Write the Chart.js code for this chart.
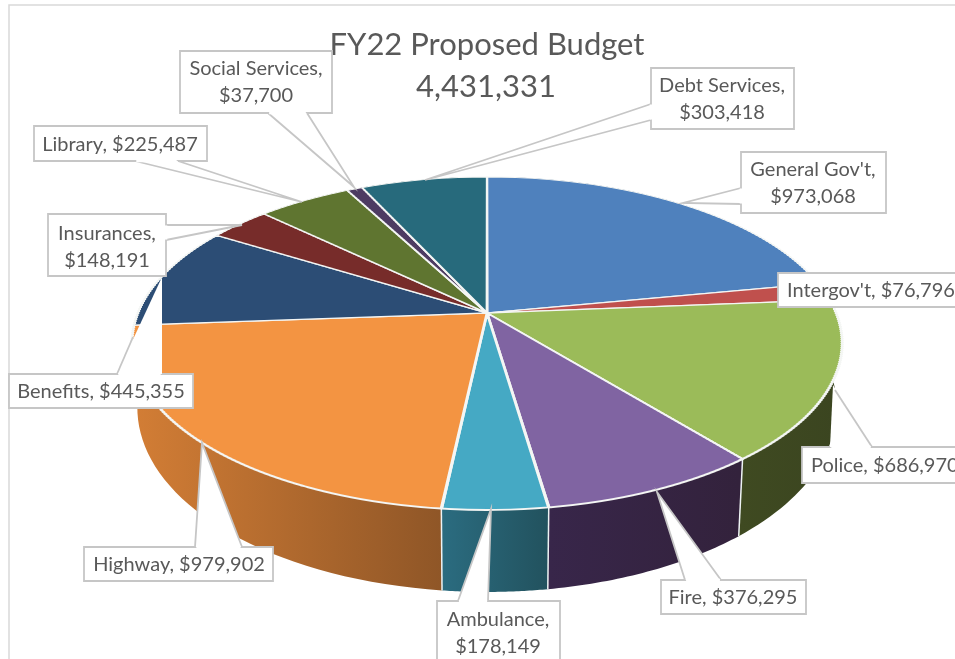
<!DOCTYPE html>
<html>
<head>
<meta charset="utf-8">
<title>FY22 Proposed Budget</title>
<script src="https://cdn.jsdelivr.net/npm/chart.js@4/dist/chart.umd.min.js"></script>
<style>
	html, body { margin: 0; padding: 0; background: #fff; overflow: hidden; }
	canvas { display: block; }
</style>
</head>
<body>
<canvas id="pie" width="955" height="659"></canvas>
<script>
// --- Datos ---------------------------------------------------------------------
const titleText = 'FY22 Proposed Budget';
const totalText = '4,431,331';
const categories = ["General Gov't", "Intergov't", 'Police', 'Fire', 'Ambulance', 'Highway', 'Benefits', 'Insurances', 'Library', 'Social Services', 'Debt Services'];
const values = [973068, 76796, 686970, 376295, 178149, 979902, 445355, 148191, 225487, 37700, 303418];
const topColors = ['#4f81bd', '#c0504d', '#9bbb59', '#8064a2', '#45a9c4', '#f39442', '#2c4d75', '#772c2a', '#5f7530', '#4d3b62', '#276a7c'];
const wallLight = ['#2f4d72', '#752f2d', '#3f4a21', '#38264a', '#2b6c80', '#d27d35', '#1f3a5c', '#4f1d1c', '#3d4c1f', '#32263f', '#1a4651'];
const wallDark = ['#2f4d72', '#752f2d', '#3b4520', '#33223c', '#22525e', '#8f5627', '#1f3a5c', '#4f1d1c', '#3d4c1f', '#32263f', '#1a4651'];

// --- Geometria del pastel 3D (proyeccion en perspectiva) ------------------------
const view = { cx: 487, cy: 313, a: 349, b: 160.9, k: 0.183, wallBase: 60, wallFront: 22, wallShrink: 0.985 };

function rimPoint(angle) {
	const u = Math.cos(angle), v = Math.sin(angle);
	const w = 1 / (1 - view.k * v);
	const x = view.cx + view.a * u * w, y = view.cy + view.b * v * w;
	return { x, y, bx: view.cx + (x - view.cx) * view.wallShrink, by: y + view.wallBase + view.wallFront * v, v };
}

// Paredes laterales: se construyen con los angulos de cada arco de Chart.js
function drawWalls(ctx, arcs) {
	const order = arcs.map((el, i) => ({ el, i })).sort((p, q) => Math.sin((p.el.startAngle + p.el.endAngle) / 2) - Math.sin((q.el.startAngle + q.el.endAngle) / 2));
	order.forEach(({ el, i }) => {
		const pts = [];
		for (let s = 0; s <= 40; s++) pts.push(rimPoint(el.startAngle + (el.endAngle - el.startAngle) * s / 40));
		const xs = pts.map(p => p.bx);
		const grad = ctx.createLinearGradient(Math.min(...xs), 0, Math.max(...xs), 0);
		grad.addColorStop(0, wallLight[i]);
		grad.addColorStop(1, wallDark[i]);
		ctx.beginPath();
		pts.forEach((p, n) => n ? ctx.lineTo(p.x, p.y) : ctx.moveTo(p.x, p.y));
		pts.slice().reverse().forEach(p => ctx.lineTo(p.bx, p.by));
		ctx.closePath();
		ctx.fillStyle = grad;
		ctx.fill();
	});
	// separadores blancos entre paredes
	ctx.strokeStyle = '#eef3f4';
	ctx.lineWidth = 1.5;
	arcs.forEach(el => {
		const p = rimPoint(el.startAngle);
		if (p.v < 0.1) return;
		ctx.beginPath();
		ctx.moveTo(p.x, p.y);
		ctx.lineTo(p.bx, p.by);
		ctx.stroke();
	});
}

// Cara superior: el canvas solo admite transformadas afines, asi que se dibuja por franjas
function drawTopFace(ctx, arcs) {
	const R = arcs[0].outerRadius, ox = arcs[0].x, oy = arcs[0].y;
	const step = 2;
	for (let y = 172; y < 516; y += step) {
		const d = y + step / 2 - view.cy;
		const v = d / (view.b + view.k * d);
		const w = 1 / (1 - view.k * v);
		ctx.save();
		ctx.beginPath();
		ctx.rect(0, y, 955, step);
		ctx.clip();
		ctx.translate(view.cx, y + step / 2);
		ctx.scale(view.a * w / R, view.b * w * w / R);
		ctx.translate(-ox, -(oy + R * v));
		arcs.forEach(el => el.draw(ctx));
		ctx.restore();
	}
}

const pie3d = {
	id: 'pie3d',
	beforeDatasetsDraw(chart) {
		const ctx = chart.ctx;
		const arcs = chart.getDatasetMeta(0).data;
		drawWalls(ctx, arcs);
		drawTopFace(ctx, arcs);
		return false;
	}
};

// --- Titulo, marco y etiquetas con cola --------------------------------------------
const labelFont = '20px Lato, "Noto Sans", sans-serif';
const labelColor = '#595959';
const boxLine = '#c6c6c6';

// idx = indice de categoria; box = [x, y, w, h]; tail = triangulo; textX/lineY = texto
const callouts = [
	{ idx: 0, box: [741, 152, 145, 61], tail: [[741, 188], [683, 203], [741, 204]], lines: 2, textX: 813, lineY: [170, 197] },
	{ idx: 1, box: [778, 273, 200, 34], tail: null, lines: 1, textX: 787, lineY: [291], left: true },
	{ idx: 2, box: [802, 447, 200, 36], tail: [[830, 447], [833, 385], [872, 447]], tailLine: [[872, 447], [835, 390]], lines: 1, textX: 811, lineY: [466], left: true },
	{ idx: 3, box: [661, 580, 145, 34], tail: [[685, 580], [657, 492], [721, 580]], lines: 1, textX: 733, lineY: [598] },
	{ idx: 4, box: [437, 601, 123, 70], tail: [[458, 601], [491, 509], [488, 601]], lines: 2, textX: 498, lineY: [620, 647] },
	{ idx: 5, box: [84, 547, 189, 34], tail: [[195, 547], [202, 443], [242, 547]], lines: 1, textX: 179, lineY: [565] },
	{ idx: 6, box: [9, 374, 184, 34], tail: [[117, 374], [162, 277], [162, 374]], tailLine: [[117, 374], [133, 337]], lines: 1, textX: 101, lineY: [392] },
	{ idx: 7, box: [48, 214, 118, 62], tail: [[166, 225], [242, 225], [166, 240]], lines: 2, textX: 107, lineY: [234, 261] },
	{ idx: 8, box: [34, 126, 173, 35], tail: [[135, 161], [302, 202], [178, 161]], lines: 1, textX: 120, lineY: [145] },
	{ idx: 9, box: [180, 51, 152, 62], tail: [[268, 113], [354, 187], [307, 113]], lines: 2, textX: 256, lineY: [69, 96] },
	{ idx: 10, box: [651, 68, 143, 61], tail: [[651, 104], [425, 180], [651, 120]], lines: 2, textX: 722, lineY: [86, 113] }
];

function money(n) { return '$' + n.toLocaleString('en-US'); }

function drawCallout(ctx, c) {
	const [x, y, w, h] = c.box;
	ctx.lineWidth = 1.8;
	ctx.strokeStyle = boxLine;
	ctx.fillStyle = '#fff';
	ctx.beginPath();
	ctx.rect(x, y, w, h);
	ctx.fill();
	ctx.stroke();
	if (c.tail) {
		ctx.beginPath();
		c.tail.forEach((p, n) => n ? ctx.lineTo(p[0], p[1]) : ctx.moveTo(p[0], p[1]));
		ctx.closePath();
		ctx.fill();
		ctx.beginPath();
		if (c.tailLine) {
			ctx.moveTo(c.tailLine[0][0], c.tailLine[0][1]);
			ctx.lineTo(c.tailLine[1][0], c.tailLine[1][1]);
		} else {
			c.tail.forEach((p, n) => n ? ctx.lineTo(p[0], p[1]) : ctx.moveTo(p[0], p[1]));
		}
		ctx.stroke();
		// abrir el borde de la caja donde entra la cola
		const a = c.tail[0], b = c.tail[2];
		ctx.save();
		ctx.strokeStyle = '#fff';
		ctx.lineWidth = 2.6;
		ctx.beginPath();
		ctx.moveTo(a[0] + (b[0] - a[0]) * 0.03, a[1] + (b[1] - a[1]) * 0.03);
		ctx.lineTo(b[0] - (b[0] - a[0]) * 0.03, b[1] - (b[1] - a[1]) * 0.03);
		ctx.stroke();
		ctx.restore();
	}
	const cat = categories[c.idx], val = money(values[c.idx]);
	const texts = c.lines === 2 ? [cat + ',', val] : [cat + ', ' + val];
	ctx.fillStyle = labelColor;
	ctx.font = labelFont;
	ctx.textBaseline = 'middle';
	ctx.textAlign = c.left ? 'left' : 'center';
	texts.forEach((t, n) => ctx.fillText(t, c.textX, c.lineY[n]));
}

const overlay = {
	id: 'overlay',
	afterDraw(chart) {
		const ctx = chart.ctx;
		ctx.save();
		// marco del grafico
		ctx.strokeStyle = '#d9d9d9';
		ctx.lineWidth = 1.5;
		ctx.beginPath();
		ctx.moveTo(955, 5);
		ctx.lineTo(9, 5);
		ctx.lineTo(9, 659);
		ctx.stroke();
		// titulo
		ctx.fillStyle = labelColor;
		ctx.textAlign = 'center';
		ctx.textBaseline = 'middle';
		ctx.font = '31px Lato, "Noto Sans", sans-serif';
		ctx.fillText(titleText, 487, 45);
		ctx.fillText(totalText, 486, 87);
		callouts.forEach(c => drawCallout(ctx, c));
		ctx.restore();
	}
};

// --- Chart.js -------------------------------------------------------------------
new Chart(document.getElementById('pie').getContext('2d'), {
	type: 'pie',
	data: {
		labels: categories,
		datasets: [{ data: values, backgroundColor: topColors, borderColor: '#f4f6f4', borderWidth: 2.5 }]
	},
	options: {
		responsive: false,
		animation: false,
		devicePixelRatio: 1,
		rotation: 0,
		layout: { padding: 10 },
		plugins: { legend: { display: false }, tooltip: { enabled: false } }
	},
	plugins: [pie3d, overlay]
});
</script>
</body>
</html>
